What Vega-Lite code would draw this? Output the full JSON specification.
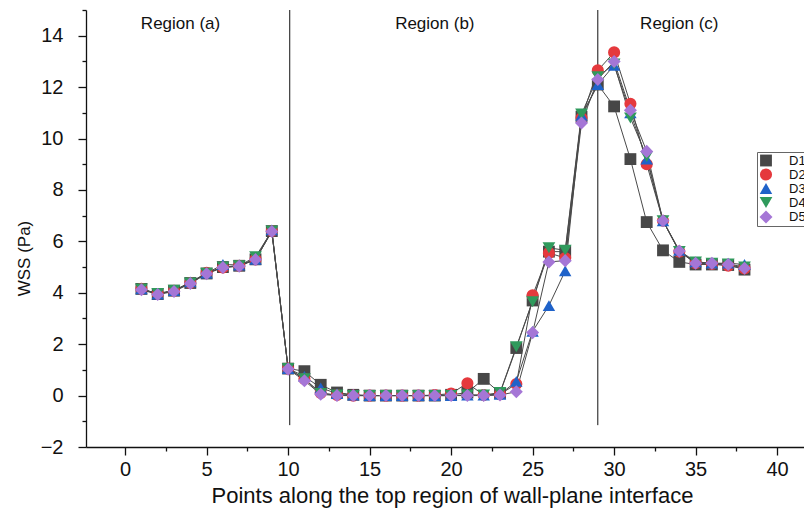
{
  "$schema": "https://vega.github.io/schema/vega-lite/v6.json",
  "autosize": {"type": "none"},
  "padding": {"left": 86, "top": 10, "right": 0, "bottom": 65},
  "width": 718,
  "height": 437,
  "background": "white",
  "config": {
    "view": {"stroke": null},
    "font": "Liberation Sans",
    "axis": {"labelFont": "Liberation Sans", "titleFont": "Liberation Sans", "labelColor": "#111", "titleColor": "#111", "domainColor": "#111", "tickColor": "#111", "grid": false, "titleFontWeight": "normal", "domainWidth": 1.3, "tickWidth": 1.3},
    "legend": {"labelFont": "Liberation Sans", "labelFontSize": 13, "labelColor": "#111", "strokeColor": "#666", "padding": 2, "rowPadding": 0, "symbolSize": 120, "symbolStrokeWidth": 0, "labelOffset": 16}
  },
  "datasets": {
    "wss": [
      {"p":1,"s":"D1","v":4.15},{"p":2,"s":"D1","v":3.95},{"p":3,"s":"D1","v":4.08},{"p":4,"s":"D1","v":4.38},{"p":5,"s":"D1","v":4.75},{"p":6,"s":"D1","v":5.0},{"p":7,"s":"D1","v":5.05},{"p":8,"s":"D1","v":5.3},{"p":9,"s":"D1","v":6.4},{"p":10,"s":"D1","v":1.05},
      {"p":11,"s":"D1","v":0.95},{"p":12,"s":"D1","v":0.42},{"p":13,"s":"D1","v":0.12},{"p":14,"s":"D1","v":0.03},{"p":15,"s":"D1","v":0.0},{"p":16,"s":"D1","v":0.0},{"p":17,"s":"D1","v":0.0},{"p":18,"s":"D1","v":0.0},{"p":19,"s":"D1","v":0.0},{"p":20,"s":"D1","v":0.03},
      {"p":21,"s":"D1","v":0.12},{"p":22,"s":"D1","v":0.65},{"p":23,"s":"D1","v":0.1},{"p":24,"s":"D1","v":1.85},{"p":25,"s":"D1","v":3.7},{"p":26,"s":"D1","v":5.6},{"p":27,"s":"D1","v":5.6},{"p":28,"s":"D1","v":10.85},{"p":29,"s":"D1","v":12.1},{"p":30,"s":"D1","v":11.25},
      {"p":31,"s":"D1","v":9.2},{"p":32,"s":"D1","v":6.75},{"p":33,"s":"D1","v":5.65},{"p":34,"s":"D1","v":5.2},{"p":35,"s":"D1","v":5.1},{"p":36,"s":"D1","v":5.1},{"p":37,"s":"D1","v":5.08},{"p":38,"s":"D1","v":4.9},
      {"p":1,"s":"D2","v":4.15},{"p":2,"s":"D2","v":3.95},{"p":3,"s":"D2","v":4.08},{"p":4,"s":"D2","v":4.38},{"p":5,"s":"D2","v":4.78},{"p":6,"s":"D2","v":4.98},{"p":7,"s":"D2","v":5.05},{"p":8,"s":"D2","v":5.3},{"p":9,"s":"D2","v":6.4},{"p":10,"s":"D2","v":1.05},
      {"p":11,"s":"D2","v":0.65},{"p":12,"s":"D2","v":0.1},{"p":13,"s":"D2","v":0.02},{"p":14,"s":"D2","v":0.0},{"p":15,"s":"D2","v":0.0},{"p":16,"s":"D2","v":0.0},{"p":17,"s":"D2","v":0.0},{"p":18,"s":"D2","v":0.0},{"p":19,"s":"D2","v":0.02},{"p":20,"s":"D2","v":0.08},
      {"p":21,"s":"D2","v":0.48},{"p":22,"s":"D2","v":0.02},{"p":23,"s":"D2","v":0.05},{"p":24,"s":"D2","v":0.45},{"p":25,"s":"D2","v":3.9},{"p":26,"s":"D2","v":5.55},{"p":27,"s":"D2","v":5.35},{"p":28,"s":"D2","v":10.8},{"p":29,"s":"D2","v":12.65},{"p":30,"s":"D2","v":13.35},
      {"p":31,"s":"D2","v":11.35},{"p":32,"s":"D2","v":9.0},{"p":33,"s":"D2","v":6.8},{"p":34,"s":"D2","v":5.6},{"p":35,"s":"D2","v":5.15},{"p":36,"s":"D2","v":5.12},{"p":37,"s":"D2","v":5.05},{"p":38,"s":"D2","v":4.95},
      {"p":1,"s":"D3","v":4.15},{"p":2,"s":"D3","v":3.95},{"p":3,"s":"D3","v":4.08},{"p":4,"s":"D3","v":4.42},{"p":5,"s":"D3","v":4.76},{"p":6,"s":"D3","v":5.1},{"p":7,"s":"D3","v":5.08},{"p":8,"s":"D3","v":5.3},{"p":9,"s":"D3","v":6.45},{"p":10,"s":"D3","v":1.05},
      {"p":11,"s":"D3","v":0.75},{"p":12,"s":"D3","v":0.3},{"p":13,"s":"D3","v":0.08},{"p":14,"s":"D3","v":0.02},{"p":15,"s":"D3","v":0.0},{"p":16,"s":"D3","v":0.0},{"p":17,"s":"D3","v":0.0},{"p":18,"s":"D3","v":0.0},{"p":19,"s":"D3","v":0.0},{"p":20,"s":"D3","v":0.0},
      {"p":21,"s":"D3","v":0.02},{"p":22,"s":"D3","v":0.02},{"p":23,"s":"D3","v":0.05},{"p":24,"s":"D3","v":0.55},{"p":25,"s":"D3","v":2.5},{"p":26,"s":"D3","v":3.5},{"p":27,"s":"D3","v":4.85},{"p":28,"s":"D3","v":10.9},{"p":29,"s":"D3","v":12.1},{"p":30,"s":"D3","v":12.85},
      {"p":31,"s":"D3","v":11.0},{"p":32,"s":"D3","v":9.2},{"p":33,"s":"D3","v":6.8},{"p":34,"s":"D3","v":5.65},{"p":35,"s":"D3","v":5.2},{"p":36,"s":"D3","v":5.15},{"p":37,"s":"D3","v":5.15},{"p":38,"s":"D3","v":5.1},
      {"p":1,"s":"D4","v":4.15},{"p":2,"s":"D4","v":3.97},{"p":3,"s":"D4","v":4.1},{"p":4,"s":"D4","v":4.38},{"p":5,"s":"D4","v":4.76},{"p":6,"s":"D4","v":5.0},{"p":7,"s":"D4","v":5.05},{"p":8,"s":"D4","v":5.4},{"p":9,"s":"D4","v":6.4},{"p":10,"s":"D4","v":1.05},
      {"p":11,"s":"D4","v":0.65},{"p":12,"s":"D4","v":0.08},{"p":13,"s":"D4","v":0.02},{"p":14,"s":"D4","v":0.0},{"p":15,"s":"D4","v":0.0},{"p":16,"s":"D4","v":0.0},{"p":17,"s":"D4","v":0.0},{"p":18,"s":"D4","v":0.0},{"p":19,"s":"D4","v":0.0},{"p":20,"s":"D4","v":0.0},
      {"p":21,"s":"D4","v":0.02},{"p":22,"s":"D4","v":0.02},{"p":23,"s":"D4","v":0.12},{"p":24,"s":"D4","v":1.9},{"p":25,"s":"D4","v":3.65},{"p":26,"s":"D4","v":5.75},{"p":27,"s":"D4","v":5.65},{"p":28,"s":"D4","v":10.95},{"p":29,"s":"D4","v":12.4},{"p":30,"s":"D4","v":12.9},
      {"p":31,"s":"D4","v":10.8},{"p":32,"s":"D4","v":9.3},{"p":33,"s":"D4","v":6.8},{"p":34,"s":"D4","v":5.6},{"p":35,"s":"D4","v":5.2},{"p":36,"s":"D4","v":5.15},{"p":37,"s":"D4","v":5.12},{"p":38,"s":"D4","v":5.0},
      {"p":1,"s":"D5","v":4.12},{"p":2,"s":"D5","v":3.93},{"p":3,"s":"D5","v":4.05},{"p":4,"s":"D5","v":4.36},{"p":5,"s":"D5","v":4.74},{"p":6,"s":"D5","v":4.98},{"p":7,"s":"D5","v":5.03},{"p":8,"s":"D5","v":5.29},{"p":9,"s":"D5","v":6.38},{"p":10,"s":"D5","v":1.03},
      {"p":11,"s":"D5","v":0.58},{"p":12,"s":"D5","v":0.05},{"p":13,"s":"D5","v":0.0},{"p":14,"s":"D5","v":0.0},{"p":15,"s":"D5","v":0.0},{"p":16,"s":"D5","v":0.0},{"p":17,"s":"D5","v":0.0},{"p":18,"s":"D5","v":0.0},{"p":19,"s":"D5","v":0.0},{"p":20,"s":"D5","v":0.0},
      {"p":21,"s":"D5","v":0.0},{"p":22,"s":"D5","v":0.0},{"p":23,"s":"D5","v":0.02},{"p":24,"s":"D5","v":0.15},{"p":25,"s":"D5","v":2.45},{"p":26,"s":"D5","v":5.2},{"p":27,"s":"D5","v":5.25},{"p":28,"s":"D5","v":10.6},{"p":29,"s":"D5","v":12.3},{"p":30,"s":"D5","v":13.0},
      {"p":31,"s":"D5","v":11.1},{"p":32,"s":"D5","v":9.5},{"p":33,"s":"D5","v":6.8},{"p":34,"s":"D5","v":5.62},{"p":35,"s":"D5","v":5.15},{"p":36,"s":"D5","v":5.15},{"p":37,"s":"D5","v":5.1},{"p":38,"s":"D5","v":4.95}
    ],
    "regions": [
      {"x": 3.4, "y": 14.45, "label": "Region (a)"},
      {"x": 19.0, "y": 14.45, "label": "Region (b)"},
      {"x": 34.0, "y": 14.45, "label": "Region (c)"}
    ],
    "dividers": [{"x": 10.1}, {"x": 29.0}]
  },
  "resolve": {"axis": {"x": "independent", "y": "independent"}},
  "layer": [
    {
      "data": {"name": "dividers"},
      "mark": {"type": "rule", "color": "#111", "strokeWidth": 1},
      "encoding": {
        "x": {"field": "x", "type": "quantitative", "scale": {"domain": [-2.4, 41.65], "nice": false, "zero": false}, "axis": null},
        "y": {"datum": -1.15, "type": "quantitative", "scale": {"domain": [-2, 15], "nice": false, "zero": false}, "axis": null},
        "y2": {"datum": 15}
      }
    },
    {
      "data": {"name": "regions"},
      "mark": {"type": "text", "fontSize": 17, "font": "Liberation Sans", "color": "#111"},
      "encoding": {
        "x": {"field": "x", "type": "quantitative", "axis": null},
        "y": {"field": "y", "type": "quantitative", "axis": null},
        "text": {"field": "label"}
      }
    },
    {
      "data": {"name": "wss"},
      "mark": {"type": "line", "strokeWidth": 1, "color": "#4a4a4a"},
      "encoding": {
        "x": {"field": "p", "type": "quantitative", "axis": null},
        "y": {"field": "v", "type": "quantitative", "axis": null},
        "detail": {"field": "s"}
      }
    },
    {
      "data": {"name": "wss"},
      "mark": {"type": "point", "filled": true, "opacity": 1},
      "encoding": {
        "x": {"field": "p", "type": "quantitative", "axis": {"orient": "bottom", "values": [0,5,10,15,20,25,30,35,40], "labelFontSize": 20, "tickSize": 8, "labelPadding": 4, "title": "Points along the top region of wall-plane interface", "titleFontSize": 22, "titlePadding": 6, "titleX": 366}},
        "y": {"field": "v", "type": "quantitative", "axis": {"orient": "left", "values": [-2,0,2,4,6,8,10,12,14], "labelFontSize": 20, "tickSize": 8, "labelPadding": 15, "title": "WSS (Pa)", "titleFontSize": 17, "titleX": -53, "titleY": 248}},
        "size": {"field": "s", "type": "nominal", "legend": null, "scale": {"domain": ["D1","D2","D3","D4","D5"], "range": [140, 170, 210, 210, 260]}},
        "color": {"field": "s", "type": "nominal", "title": null, "legend": {"orient": "none", "legendX": 671, "legendY": 142}, "scale": {"domain": ["D1","D2","D3","D4","D5"], "range": ["#474747", "#e5393d", "#1f62c9", "#2f9a5c", "#a576d6"]}},
        "shape": {"field": "s", "type": "nominal", "title": null, "legend": {"orient": "none", "legendX": 671, "legendY": 142}, "scale": {"domain": ["D1","D2","D3","D4","D5"], "range": ["square", "circle", "triangle-up", "triangle-down", "diamond"]}}
      }
    },
    {
      "data": {"name": "regions"},
      "mark": {"type": "point", "opacity": 0},
      "encoding": {
        "x": {"datum": 0, "type": "quantitative", "axis": {"orient": "bottom", "values": [-2.5,2.5,7.5,12.5,17.5,22.5,27.5,32.5,37.5], "labels": false, "domain": false, "tickSize": 4, "title": null}},
        "y": {"datum": 0, "type": "quantitative", "axis": {"orient": "left", "values": [-1,1,3,5,7,9,11,13,15], "labels": false, "domain": false, "tickSize": 4, "title": null}}
      }
    }
  ]
}
